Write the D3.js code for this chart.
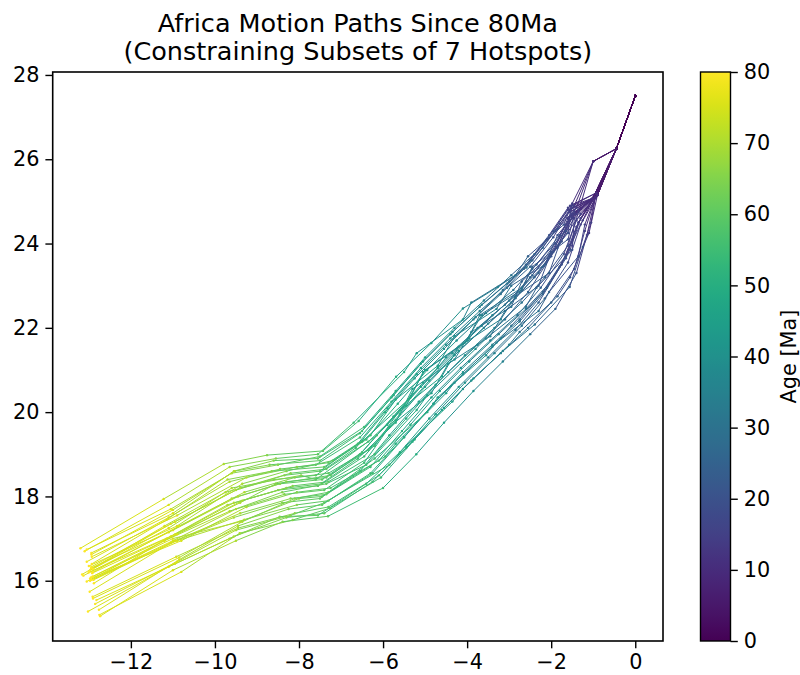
<!DOCTYPE html>
<html>
<head>
<meta charset="utf-8">
<script src="https://cdn.jsdelivr.net/npm/d3@7"></script>
<style>
  body { margin: 0; background: #fff; }
  text { font-family: "DejaVu Sans", sans-serif; }
</style>
</head>
<body>
<div id="chart"></div>
<script>
// Ages of each reconstructed point (Ma), one per point along every path
const ages = [0, 5, 10, 15, 20, 25, 30, 35, 40, 45, 50, 55, 60, 65, 70, 75, 80];

// Motion paths [lon, lat], one list per hotspot subset
const paths = [
  [[0,27.5],[-0.45,26.25],[-1.0,25.95],[-1.45,24.9],[-1.8,24.47],[-2.2,23.9],[-2.59,23.43],[-3.27,22.97],[-4.1,22.46],[-4.85,21.64],[-5.69,20.84],[-6.58,19.79],[-7.43,19.08],[-8.76,18.98],[-9.79,18.77],[-11.22,17.94],[-13.2,16.77]],
  [[0,27.5],[-0.45,26.25],[-1.0,25.95],[-1.4,24.85],[-1.85,24.35],[-2.4,23.75],[-2.95,23.25],[-3.6,22.65],[-4.3,22.0],[-5.0,21.3],[-5.7,20.5],[-6.45,19.65],[-7.5,18.95],[-8.5,18.75],[-9.6,18.55],[-11.05,17.7],[-13.05,16.74]],
  [[0,27.5],[-0.45,26.25],[-0.95,25.1],[-1.5,24.9],[-1.9,24.3],[-2.45,23.6],[-3.0,23.1],[-3.65,22.55],[-4.35,21.9],[-5.05,21.2],[-5.75,20.4],[-6.5,19.55],[-7.55,18.9],[-8.6,18.85],[-9.55,18.6],[-11.0,17.6],[-12.94,16.66]],
  [[0,27.5],[-0.45,26.25],[-0.9,25.15],[-1.35,24.8],[-1.85,24.2],[-2.15,23.5],[-2.95,23.0],[-3.3,22.45],[-4.3,21.8],[-4.7,21.1],[-5.7,20.3],[-6.3,19.45],[-7.3,18.8],[-8.05,18.7],[-9.25,18.45],[-10.9,17.55],[-12.93,16.57]],
  [[0,27.5],[-0.45,26.25],[-0.95,25.1],[-1.55,24.8],[-1.95,24.15],[-2.5,23.45],[-3.05,22.95],[-3.7,22.4],[-4.4,21.75],[-5.1,21.05],[-5.8,20.25],[-6.55,19.4],[-7.6,18.75],[-8.45,18.65],[-9.65,18.35],[-11.1,17.5],[-13.05,16.45]],
  [[0,27.5],[-0.45,26.25],[-1.02,25.05],[-1.45,24.7],[-1.6,24.1],[-2.45,23.45],[-2.7,22.9],[-3.65,22.3],[-4.05,21.65],[-5.05,20.95],[-5.45,20.15],[-6.35,19.3],[-7.35,18.65],[-8.2,18.55],[-9.4,18.2],[-10.95,17.4],[-12.94,16.33]],
  [[0,27.5],[-0.45,26.25],[-0.93,25.2],[-1.6,24.85],[-2.05,24.2],[-2.6,23.5],[-3.15,22.9],[-3.8,22.25],[-4.5,21.6],[-5.2,20.9],[-5.9,20.1],[-6.6,19.25],[-7.5,18.6],[-8.35,18.5],[-9.5,18.15],[-11.05,17.35],[-12.97,16.25]],
  [[0,27.5],[-0.45,26.25],[-0.95,25.1],[-1.4,24.7],[-1.8,24.0],[-2.05,23.3],[-2.85,22.75],[-3.2,22.2],[-4.2,21.55],[-4.6,20.85],[-5.6,20.05],[-6.2,19.2],[-7.3,18.55],[-8.1,18.45],[-9.3,18.1],[-10.85,17.3],[-12.91,16.2]],
  [[0,27.5],[-0.45,26.25],[-0.95,25.1],[-1.45,24.75],[-1.75,24.05],[-2.3,23.3],[-2.85,22.7],[-3.5,22.1],[-4.2,21.45],[-4.9,20.75],[-5.6,19.95],[-6.35,19.1],[-7.35,18.45],[-8.3,18.35],[-9.45,18.0],[-11.0,17.2],[-12.95,16.3]],
  [[0,27.5],[-0.45,26.25],[-0.9,25.15],[-1.5,24.7],[-1.9,24.0],[-2.45,23.25],[-3.0,22.65],[-3.65,22.05],[-4.35,21.4],[-5.05,20.7],[-5.75,19.9],[-6.5,19.05],[-7.45,18.4],[-8.45,18.3],[-9.6,17.95],[-11.1,17.15],[-13.13,16.12]],
  [[0,27.5],[-0.45,26.25],[-1.0,25.95],[-1.35,24.75],[-1.6,23.95],[-2.15,23.2],[-2.7,22.6],[-3.35,22.0],[-4.05,21.35],[-4.75,20.65],[-5.45,19.85],[-6.2,19.0],[-7.3,18.35],[-8.15,18.25],[-9.35,17.9],[-10.9,17.1],[-12.91,16.1]],
  [[0,27.5],[-0.45,26.25],[-0.95,25.1],[-1.55,24.65],[-1.85,23.9],[-2.7,23.1],[-2.95,22.5],[-3.9,21.9],[-4.3,21.25],[-5.3,20.55],[-5.7,19.75],[-6.6,18.9],[-7.55,18.25],[-8.5,18.15],[-9.7,17.8],[-11.15,17.0],[-12.88,15.94]],
  [[0,27.5],[-0.45,26.25],[-1.02,25.05],[-1.3,24.6],[-1.55,23.85],[-2.05,23.05],[-2.6,22.45],[-3.25,21.85],[-3.95,21.2],[-4.65,20.5],[-5.35,19.7],[-6.1,18.85],[-7.25,18.2],[-8.05,18.1],[-9.25,17.75],[-10.8,16.95],[-12.97,16.05]],
  [[0,27.5],[-0.45,26.25],[-0.93,25.2],[-1.5,24.6],[-2.0,23.8],[-2.3,23.0],[-3.1,22.4],[-3.45,21.8],[-4.45,21.15],[-4.85,20.45],[-5.85,19.65],[-6.45,18.8],[-7.4,18.15],[-8.35,18.05],[-9.5,17.7],[-11.0,16.95],[-12.94,16.02]],
  [[0,27.5],[-0.45,26.25],[-0.95,25.1],[-1.4,24.55],[-1.7,23.75],[-2.25,22.95],[-2.8,22.3],[-3.45,21.7],[-4.15,21.05],[-4.85,20.35],[-5.55,19.55],[-6.3,18.7],[-7.35,18.05],[-8.2,17.95],[-9.4,17.6],[-10.95,16.95],[-12.97,16.0]],
  [[0,27.5],[-0.45,26.25],[-0.9,25.15],[-1.6,24.6],[-2.0,23.7],[-2.55,22.85],[-3.1,22.2],[-3.75,21.6],[-4.45,20.95],[-5.15,20.25],[-5.85,19.45],[-6.55,18.6],[-7.5,17.95],[-8.4,17.85],[-9.55,17.5],[-11.05,16.9],[-12.98,15.74]],
  [[0,27.5],[-0.45,26.25],[-0.95,25.1],[-1.2,24.3],[-1.45,23.4],[-2.0,22.6],[-2.55,22.0],[-3.2,21.4],[-3.9,20.75],[-4.6,20.05],[-5.3,19.3],[-6.1,18.5],[-7.3,17.75],[-8.1,17.6],[-9.45,17.25],[-10.92,16.57],[-12.91,15.62]],
  [[0,27.5],[-0.45,26.25],[-0.95,25.1],[-1.05,24.5],[-1.25,23.92],[-1.56,22.97],[-2.39,22.08],[-3.15,21.45],[-3.85,20.8],[-4.55,20.1],[-5.25,19.35],[-6.05,18.45],[-7.27,17.72],[-8.15,17.44],[-9.41,17.13],[-10.8,16.21],[-12.75,15.19]],
  [[0,27.5],[-0.45,26.25],[-0.9,25.15],[-1.3,24.45],[-1.6,23.55],[-2.15,22.7],[-2.7,22.05],[-3.35,21.4],[-4.05,20.7],[-4.75,19.95],[-5.45,19.15],[-6.25,18.35],[-7.4,17.6],[-8.3,17.5],[-9.55,17.05],[-10.95,16.4],[-12.82,15.54]],
  [[0,27.5],[-0.45,26.25],[-1.02,25.05],[-1.4,24.4],[-1.75,23.5],[-2.3,22.6],[-2.85,21.95],[-3.5,21.3],[-4.2,20.6],[-4.9,19.85],[-5.6,19.05],[-6.4,18.3],[-7.55,17.55],[-8.46,17.52],[-9.65,17.0],[-11.1,16.33],[-13.02,15.27]],
  [[0,27.5],[-0.45,26.25],[-0.95,25.1],[-1.15,24.2],[-1.4,23.3],[-1.9,22.45],[-2.5,21.85],[-3.15,21.2],[-3.85,20.5],[-4.55,19.75],[-5.21,19.0],[-6.0,18.2],[-7.31,17.53],[-8.39,17.4],[-9.5,16.95],[-11.0,16.25],[-12.73,15.16]],
  [[0,27.5],[-0.45,26.25],[-0.93,25.2],[-1.35,24.5],[-1.65,23.65],[-2.2,22.8],[-2.75,22.15],[-3.4,21.55],[-4.1,20.9],[-4.8,20.2],[-5.5,19.41],[-6.3,18.55],[-7.45,17.8],[-8.25,17.7],[-9.45,17.3],[-10.85,16.5],[-12.76,15.31]],
  [[0,27.5],[-0.45,26.25],[-0.95,25.1],[-1.6,24.8],[-2.1,24.1],[-2.65,23.4],[-3.2,22.8],[-3.85,22.2],[-4.55,21.5],[-5.25,20.8],[-5.95,20.0],[-6.65,19.15],[-7.6,18.5],[-8.6,18.4],[-9.75,18.1],[-11.2,17.3],[-13.16,16.15]],
  [[0,27.5],[-0.45,26.25],[-0.9,25.15],[-1.45,24.8],[-1.8,24.2],[-2.35,23.5],[-2.9,22.9],[-3.55,22.35],[-4.25,21.7],[-4.95,21.0],[-5.65,20.2],[-6.4,19.35],[-7.4,18.7],[-8.65,18.6],[-9.7,18.4],[-11.15,17.45],[-12.93,16.4]],
  [[0,27.5],[-0.45,26.25],[-1.02,25.05],[-1.5,24.65],[-1.85,23.95],[-2.4,23.2],[-2.95,22.6],[-3.6,22.0],[-4.3,21.35],[-5.0,20.6],[-5.7,19.8],[-6.45,18.95],[-7.45,18.3],[-8.3,18.2],[-9.55,17.85],[-11.05,17.05],[-12.92,16.18]],
  [[0,27.5],[-0.45,26.25],[-0.95,25.1],[-1.35,24.5],[-1.65,23.7],[-2.2,22.85],[-2.75,22.2],[-3.4,21.6],[-4.1,20.95],[-4.8,20.2],[-5.5,19.4],[-6.25,18.55],[-7.3,17.9],[-8.05,17.8],[-9.3,17.45],[-10.9,16.95],[-12.89,16.02]],
  [[0,27.5],[-0.45,26.25],[-0.93,25.2],[-1.55,24.9],[-1.95,24.3],[-2.5,23.6],[-3.05,23.05],[-3.7,22.5],[-4.4,21.85],[-5.1,21.15],[-5.8,20.35],[-6.55,19.5],[-7.5,18.85],[-8.7,18.75],[-9.53,18.6],[-11.0,17.68],[-12.94,16.62]],
  [[0,27.5],[-0.45,26.25],[-0.95,25.1],[-1.5,24.85],[-1.65,24.3],[-2.45,23.4],[-2.7,22.95],[-3.7,22.3],[-4.0,21.7],[-5.0,21.0],[-5.4,20.3],[-6.5,19.3],[-7.2,18.85],[-8.3,18.6],[-9.35,18.3],[-10.9,17.3],[-13.0,16.35]],
  [[0,27.5],[-0.45,26.25],[-0.9,25.15],[-1.3,24.7],[-1.95,23.8],[-2.2,23.45],[-3.1,22.55],[-3.4,22.3],[-4.5,21.3],[-4.7,21.05],[-5.9,19.7],[-6.15,19.45],[-7.6,18.4],[-7.95,18.5],[-9.6,18.2],[-11.1,17.25],[-12.9,16.28]],
  [[0,27.5],[-0.45,26.25],[-1.02,25.05],[-1.55,24.75],[-1.6,24.25],[-2.5,23.2],[-2.75,22.85],[-3.75,22.0],[-3.95,21.75],[-5.1,20.6],[-5.35,20.35],[-6.55,19.0],[-7.25,18.5],[-8.55,18.3],[-9.4,17.85],[-10.95,17.1],[-13.0,16.2]],
  [[0,27.5],[-0.45,26.25],[-0.93,25.2],[-1.25,24.55],[-1.8,23.45],[-2.1,22.95],[-2.95,22.05],[-3.2,21.75],[-4.3,20.7],[-4.5,20.45],[-5.7,19.25],[-5.95,18.95],[-7.45,18.0],[-8.0,17.95],[-9.4,17.4],[-11.0,17.0],[-12.95,16.08]],
  [[0,27.5],[-0.45,26.25],[-0.95,25.1],[-1.45,24.6],[-1.5,23.85],[-2.35,22.95],[-2.6,22.5],[-3.55,21.75],[-3.8,21.5],[-4.95,20.4],[-5.2,20.05],[-6.4,18.75],[-7.35,18.3],[-8.4,18.1],[-9.65,17.65],[-11.2,16.95],[-13.05,15.98]],
  [[0,27.5],[-0.45,26.25],[-1.0,25.95],[-1.5,24.95],[-1.7,24.45],[-2.55,23.7],[-2.85,23.25],[-3.9,22.6],[-4.1,22.2],[-5.2,21.4],[-5.5,20.95],[-6.7,19.75],[-7.55,19.0],[-8.55,18.9],[-9.65,18.7],[-11.1,17.8],[-13.1,16.7]],
  [[0,27.5],[-0.45,26.25],[-0.9,25.15],[-1.1,24.25],[-1.55,23.2],[-1.85,22.75],[-2.75,21.9],[-3.0,21.6],[-4.1,20.55],[-4.35,20.25],[-5.45,19.2],[-5.85,18.75],[-7.4,17.85],[-8.2,17.55],[-9.5,17.2],[-10.9,16.45],[-12.85,15.45]],
  [[0,27.5],[-0.45,26.25],[-0.95,25.1],[-1.2,24.45],[-1.35,23.7],[-2.05,22.85],[-2.3,22.4],[-3.3,21.65],[-3.55,21.35],[-4.7,20.35],[-4.95,20.0],[-6.2,18.9],[-7.3,18.1],[-8.1,17.95],[-9.35,17.4],[-10.85,16.55],[-12.9,15.58]]
];

const xTicks = [-12, -10, -8, -6, -4, -2, 0];
const yTicks = [16, 18, 20, 22, 24, 26, 28];
const ageTicks = [0, 10, 20, 30, 40, 50, 60, 70, 80];

// Figure layout (pixels), matplotlib-like
const width = 800, height = 675;
const plot = { left: 52.7, right: 663, top: 72, bottom: 641 };
const cbar = { left: 700.5, right: 730.5, top: 72, bottom: 641 };
const fontSize = 20.8;
const tickLen = 7.3;

const svg = d3.select('#chart')
  .append('svg')
    .attr('width', width)
    .attr('height', height);

// Scales
const x = d3.scaleLinear().domain([-13.86, 0.66]).range([plot.left, plot.right]);
const y = d3.scaleLinear().domain([14.57, 28.07]).range([plot.bottom, plot.top]);
const ageScale = d3.scaleLinear().domain([0, 80]).range([cbar.bottom, cbar.top]);
const color = a => d3.interpolateViridis(a / 80);

// Paths: each segment takes the colour of its younger end
const g = svg.append('g');
paths.forEach(p => {
  for (let i = 0; i < p.length - 1; i++) {
    g.append('line')
      .attr('x1', x(p[i][0])).attr('y1', y(p[i][1]))
      .attr('x2', x(p[i + 1][0])).attr('y2', y(p[i + 1][1]))
      .attr('stroke', color(ages[i]))
      .attr('stroke-width', 1)
      .attr('stroke-linecap', 'round');
  }
});
paths.forEach(p => {
  g.selectAll(null)
    .data(p)
    .enter()
    .append('circle')
      .attr('cx', d => x(d[0]))
      .attr('cy', d => y(d[1]))
      .attr('r', 1.2)
      .attr('fill', (d, i) => color(ages[i]));
});

// Axes
const xAxis = svg.append('g')
  .attr('transform', `translate(0,${plot.bottom})`)
  .call(d3.axisBottom(x).tickValues(xTicks).tickSize(tickLen).tickPadding(6));
const yAxis = svg.append('g')
  .attr('transform', `translate(${plot.left},0)`)
  .call(d3.axisLeft(y).tickValues(yTicks).tickSize(tickLen).tickPadding(6));
[xAxis, yAxis].forEach(a => {
  a.select('.domain').remove();
  a.selectAll('line').attr('stroke', '#000').attr('stroke-width', 1.4);
  a.selectAll('text')
    .attr('fill', '#000')
    .style('font-size', fontSize + 'px')
    .style('font-family', '"DejaVu Sans", sans-serif');
});

// Frame
svg.append('rect')
  .attr('x', plot.left).attr('y', plot.top)
  .attr('width', plot.right - plot.left)
  .attr('height', plot.bottom - plot.top)
  .attr('fill', 'none')
  .attr('stroke', '#000')
  .attr('stroke-width', 1.6);

// Title
const title = svg.append('text')
  .attr('text-anchor', 'middle')
  .style('font-size', '25.5px');
title.append('tspan')
  .attr('x', (plot.left + plot.right) / 2).attr('y', 32)
  .text('Africa Motion Paths Since 80Ma');
title.append('tspan')
  .attr('x', (plot.left + plot.right) / 2).attr('y', 60)
  .text('(Constraining Subsets of 7 Hotspots)');

// Colorbar
const grad = svg.append('defs').append('linearGradient')
  .attr('id', 'viridis')
  .attr('x1', 0).attr('y1', 1).attr('x2', 0).attr('y2', 0);
d3.range(0, 1.0001, 0.02).forEach(t => {
  grad.append('stop')
    .attr('offset', t)
    .attr('stop-color', d3.interpolateViridis(t));
});
svg.append('rect')
  .attr('x', cbar.left).attr('y', cbar.top)
  .attr('width', cbar.right - cbar.left)
  .attr('height', cbar.bottom - cbar.top)
  .attr('fill', 'url(#viridis)')
  .attr('stroke', '#000')
  .attr('stroke-width', 1.4);

const cAxis = svg.append('g')
  .attr('transform', `translate(${cbar.right},0)`)
  .call(d3.axisRight(ageScale).tickValues(ageTicks).tickSize(tickLen).tickPadding(6));
cAxis.select('.domain').remove();
cAxis.selectAll('line').attr('stroke', '#000').attr('stroke-width', 1.4);
cAxis.selectAll('text')
  .attr('fill', '#000')
  .style('font-size', fontSize + 'px')
  .style('font-family', '"DejaVu Sans", sans-serif');

svg.append('text')
  .attr('transform', `translate(796,${(cbar.top + cbar.bottom) / 2}) rotate(-90)`)
  .attr('text-anchor', 'middle')
  .style('font-size', fontSize + 'px')
  .text('Age [Ma]');
</script>
</body>
</html>
